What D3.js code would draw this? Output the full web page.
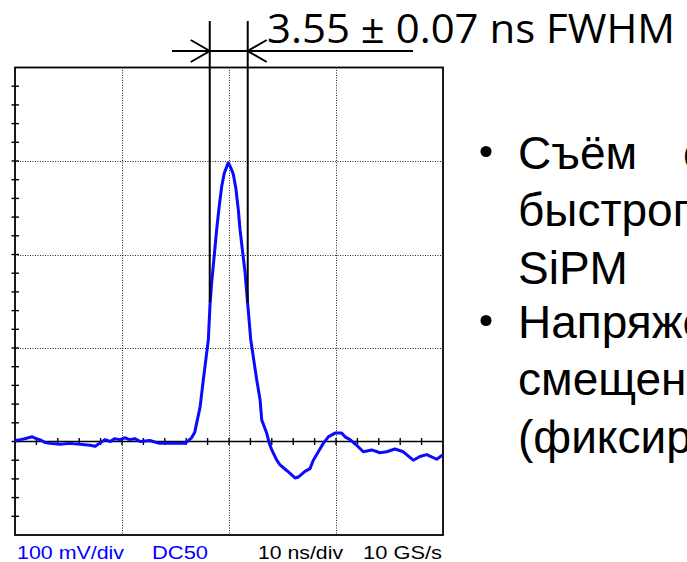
<!DOCTYPE html>
<html>
<head>
<meta charset="utf-8">
<script src="https://cdn.jsdelivr.net/npm/d3@7"></script>
<style>
  html, body { margin: 0; padding: 0; background: #fff; overflow: hidden; }
  svg { display: block; }
</style>
</head>
<body>
<svg id="chart" width="687" height="562"></svg>
<script>
// Oscilloscope capture of a SiPM fast-output pulse (time in ns, amplitude in mV)
const timeNs = [-20.0,-19.5,-19.1,-18.4,-18.0,-17.7,-17.2,-16.7,-15.8,-14.9,-13.9,-13.0,-12.5,-12.1,-11.6,-11.1,-10.7,-10.2,-9.7,-9.3,-8.8,-8.3,-7.4,-6.5,-5.5,-4.6,-4.1,-3.8,-3.5,-3.2,-2.7,-2.4,-1.93,-1.78,-1.62,-1.37,-1.15,-0.91,-0.68,-0.44,-0.21,-0.07,0.16,0.40,0.65,0.87,1.03,1.28,1.50,1.71,1.90,2.03,2.59,2.90,3.06,3.52,3.77,4.00,4.46,4.77,5.39,6.17,6.48,7.10,7.57,7.88,8.35,8.81,9.28,9.91,10.53,10.84,11.31,11.93,12.55,13.34,14.11,14.74,15.51,16.29,17.22,17.85,18.48,19.41,20.0];
const voltMv = [1,2,3,5,3,2,-1,-2,-3,-2,-3,-4,-5,-2,2,0,3,2,4,2,3,0,1,-2,-2,-2,-2,1,4,10,37,66,109,145,170,200,227,252,273,287,294,298,293,286,270,248,227,202,181,152,127,109,66,45,23,9,-2,-9,-20,-25,-31,-39,-38,-32,-29,-20,-11,-2,5,9,9,5,2,-4,-11,-9,-12,-11,-8,-11,-20,-16,-14,-19,-14];

// Screen extent: 4 horizontal divisions (10 ns), 5 vertical divisions (100 mV)
const timeDomain = [-20, 20];
const voltDomain = [-100, 400];
const majorTimeTicks = [-10, 0, 10];
const majorVoltTicks = [100, 200, 300];
const minorTimeTicks = d3.range(-20, 20.001, 2);
const minorVoltTicks = d3.range(-100, 400.001, 20);

// Width measurement
const peakMv = 298;
const fwhmEdgesNs = [-1.8, 1.75];
const fwhmLabel = "3.55 ± 0.07 ns FWHM";

// Scope readouts
const readouts = [
  { text: "100 mV/div", color: "#0000ff", x0: 17, x1: 124 },
  { text: "DC50", color: "#0000ff", x0: 152, x1: 208 },
  { text: "10 ns/div", color: "#000000", x0: 258, x1: 343 },
  { text: "10 GS/s", color: "#000000", x0: 363, x1: 442 }
];

// Slide bullets
const bullets = [
  { lines: [["Съём", "сигнала с"], ["быстрого выхода"], ["SiPM"]] },
  { lines: [["Напряжение"], ["смещения"], ["(фиксированное)"]] }
];

const svg = d3.select("#chart");
const plotLeft = 15, plotRight = 443, plotTop = 67.5, plotBottom = 535;

const x = d3.scaleLinear().domain(timeDomain).range([plotLeft, plotRight]);
const y = d3.scaleLinear().domain(voltDomain).range([plotBottom, plotTop]);

svg.append("rect").attr("width", 687).attr("height", 562).attr("fill", "#fff");

// dotted graticule
const grid = svg.append("g").attr("stroke", "#222").attr("stroke-width", 1)
  .attr("stroke-dasharray", "1,1.5");
grid.selectAll(".vg").data(majorTimeTicks).join("line")
  .attr("x1", d => Math.round(x(d)) + 0.5).attr("x2", d => Math.round(x(d)) + 0.5)
  .attr("y1", plotTop).attr("y2", plotBottom);
grid.selectAll(".hg").data(majorVoltTicks).join("line")
  .attr("x1", plotLeft).attr("x2", plotRight)
  .attr("y1", d => Math.round(y(d)) + 0.5).attr("y2", d => Math.round(y(d)) + 0.5);

// centre axis with minor ticks
const axisG = svg.append("g").attr("stroke", "#000");
axisG.append("line")
  .attr("x1", plotLeft).attr("x2", plotRight)
  .attr("y1", y(0)).attr("y2", y(0)).attr("stroke-width", 1.6);
axisG.selectAll(".ht").data(minorTimeTicks.filter(d => d > timeDomain[0] && d < timeDomain[1])).join("line")
  .attr("x1", d => x(d)).attr("x2", d => x(d))
  .attr("y1", y(0) - 3.5).attr("y2", y(0) + 3.5).attr("stroke-width", 1.4);

// left edge ticks
axisG.selectAll(".vt").data(minorVoltTicks.filter(d => d > voltDomain[0] && d < voltDomain[1])).join("line")
  .attr("x1", plotLeft - 3.5).attr("x2", plotLeft + 4)
  .attr("y1", d => y(d)).attr("y2", d => y(d)).attr("stroke-width", 1.4);

// frame
svg.append("rect")
  .attr("x", plotLeft).attr("y", plotTop).attr("width", plotRight - plotLeft).attr("height", plotBottom - plotTop)
  .attr("fill", "none").attr("stroke", "#000").attr("stroke-width", 1.8);

// waveform
const trace = timeNs.map((t, i) => [t, voltMv[i]]);
svg.append("path")
  .datum(trace)
  .attr("fill", "none")
  .attr("stroke", "#0a0aff")
  .attr("stroke-width", 3)
  .attr("stroke-linejoin", "round")
  .attr("d", d3.line().x(d => x(d[0])).y(d => y(d[1])));

// FWHM markers
const halfY = y(peakMv / 2);
const barY = 51;
const mark = svg.append("g").attr("stroke", "#000").attr("stroke-width", 2).attr("fill", "none");
fwhmEdgesNs.forEach(t => {
  mark.append("line").attr("x1", x(t)).attr("x2", x(t)).attr("y1", 21).attr("y2", halfY);
});
const xl = x(fwhmEdgesNs[0]), xr = x(fwhmEdgesNs[1]);
mark.append("line").attr("x1", 172).attr("x2", 413).attr("y1", barY).attr("y2", barY);
mark.append("path").attr("d", `M${xl - 19},${barY - 11} L${xl},${barY} L${xl - 19},${barY + 11}`);
mark.append("path").attr("d", `M${xr + 19},${barY - 11} L${xr},${barY} L${xr + 19},${barY + 11}`);

svg.append("text")
  .attr("x", 267).attr("y", 43)
  .attr("font-family", "'Open Sans', 'Noto Sans', sans-serif")
  .attr("font-size", 41)
  .attr("textLength", 408).attr("lengthAdjust", "spacingAndGlyphs")
  .attr("fill", "#000")
  .text(fwhmLabel);

// readouts under the screen
svg.selectAll(".readout").data(readouts).join("text")
  .attr("x", d => d.x0).attr("y", 558.5)
  .attr("font-family", "'Liberation Sans', Arial, sans-serif")
  .attr("font-size", 18)
  .attr("textLength", d => d.x1 - d.x0).attr("lengthAdjust", "spacingAndGlyphs")
  .attr("fill", d => d.color)
  .text(d => d.text);

// bullet text
const textG = svg.append("g")
  .attr("font-family", "'Liberation Sans', Arial, sans-serif")
  .attr("font-size", 46).attr("fill", "#000");
const firstBaselines = [168.5, 337.5];
const lineStep = 57.5;
bullets.forEach((b, bi) => {
  const by = firstBaselines[bi];
  textG.append("circle").attr("cx", 486).attr("cy", by - 17).attr("r", 5.5);
  b.lines.forEach((words, li) => {
    const ly = by + li * lineStep;
    textG.append("text").attr("x", 518).attr("y", ly).text(words[0]);
    if (words[1]) textG.append("text").attr("x", 683).attr("y", ly).text(words[1]);
  });
});
</script>
</body>
</html>
